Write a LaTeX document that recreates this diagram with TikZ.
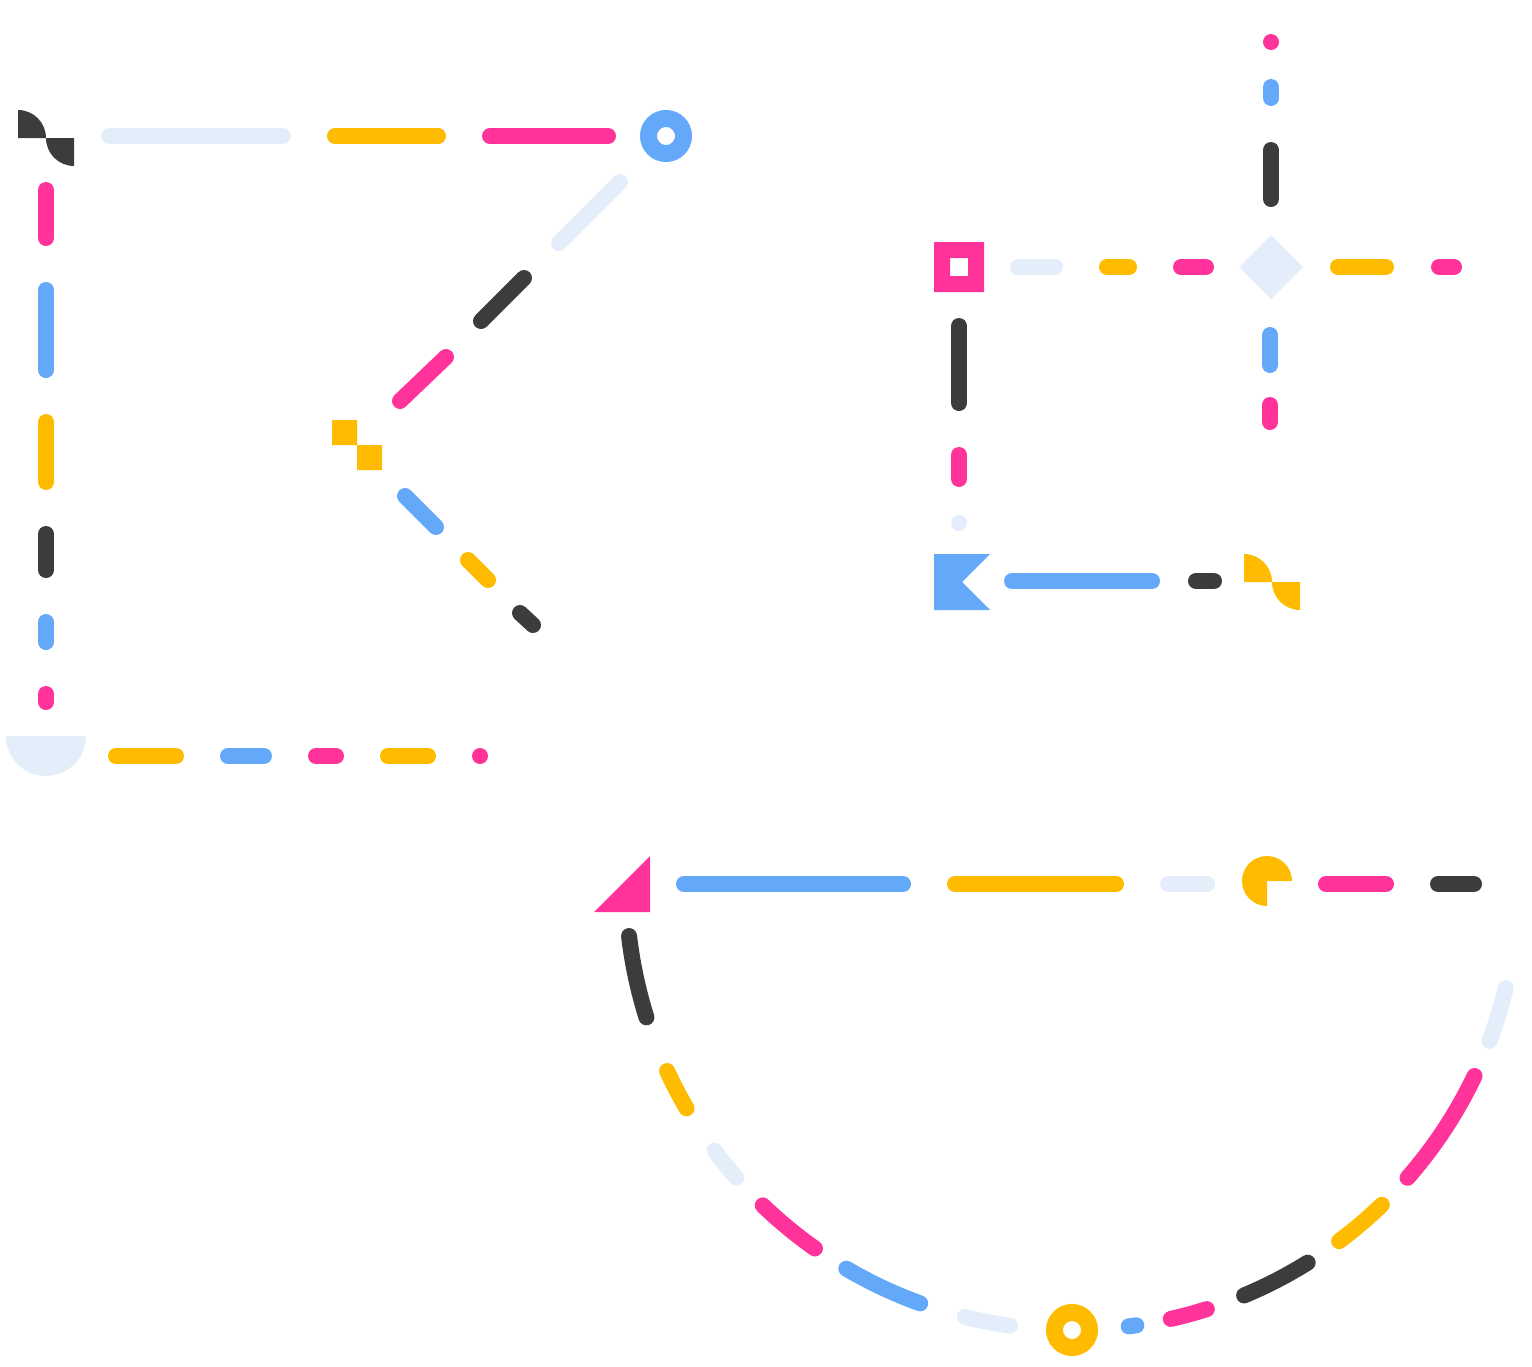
\documentclass[tikz,border=0pt]{standalone}
\usepackage{tikz}
\definecolor{darkcolor}{RGB}{59, 60, 62}
\definecolor{palecolor}{RGB}{228, 238, 251}
\definecolor{yellowcolor}{RGB}{255, 187, 0}
\definecolor{pinkcolor}{RGB}{255, 51, 153}
\definecolor{bluecolor}{RGB}{100, 168, 250}

\begin{document}
\begin{tikzpicture}[
    x=1pt, y=-1pt,
    seg/.style={line width=16pt, line cap=round},
    ring/.style={circle, draw, line width=17pt, minimum size=35pt, inner sep=0pt},
    dot/.style={circle, inner sep=0pt, minimum size=16pt}
]
\useasboundingbox (0,0) rectangle (1532,1366);

% Top-left frame: markers
\fill[darkcolor] (18,138) -- (18,110) arc[start angle=-90, end angle=0, radius=28] -- cycle;
\fill[darkcolor] (74,138) -- (46,138) arc[start angle=180, end angle=90, radius=28] -- cycle;
\node[ring, draw=bluecolor] (ringTop) at (666,136) {};
\fill[yellowcolor] (332,420) rectangle (357,445) (357,445) rectangle (382,470);
\fill[palecolor] (6,736) arc[start angle=180, end angle=0, radius=40] -- cycle;
\node[dot, fill=pinkcolor] (dotLeft) at (480,756) {};

% Top-left frame: dashes
\draw[seg, palecolor] (109,136) -- (283,136);
\draw[seg, yellowcolor] (335,136) -- (438,136);
\draw[seg, pinkcolor] (490,136) -- (608,136);
\draw[seg, pinkcolor] (46,190) -- (46,238);
\draw[seg, bluecolor] (46,290) -- (46,370);
\draw[seg, yellowcolor] (46,422) -- (46,482);
\draw[seg, darkcolor] (46,534) -- (46,570);
\draw[seg, bluecolor] (46,622) -- (46,642);
\draw[seg, pinkcolor] (46,694) -- (46,702);
\draw[seg, palecolor] (620,182) -- (559,243);
\draw[seg, darkcolor] (524,278) -- (481,321);
\draw[seg, pinkcolor] (446,357) -- (400,401);
\draw[seg, bluecolor] (405,496) -- (436,527);
\draw[seg, yellowcolor] (468,560) -- (488,580);
\draw[seg, darkcolor] (520,613) -- (533,625);
\draw[seg, yellowcolor] (116,756) -- (176,756);
\draw[seg, bluecolor] (228,756) -- (264,756);
\draw[seg, pinkcolor] (316,756) -- (336,756);
\draw[seg, yellowcolor] (388,756) -- (428,756);

% Top-right cross: markers
\fill[pinkcolor, even odd rule] (934,242) rectangle (984,292) (950,258) rectangle (968,276);
\fill[palecolor] (1271,235) -- (1303,267) -- (1271,299) -- (1239,267) -- cycle;
\fill[bluecolor] (934,554) -- (990,554) -- (962,582) -- (990,610) -- (934,610) -- cycle;
\fill[yellowcolor] (1244,582) -- (1244,554) arc[start angle=-90, end angle=0, radius=28] -- cycle;
\fill[yellowcolor] (1300,582) -- (1272,582) arc[start angle=180, end angle=90, radius=28] -- cycle;
\node[dot, fill=pinkcolor] (dotTop) at (1271,42) {};
\node[dot, fill=palecolor] (dotMid) at (959,523) {};

% Top-right cross: dashes
\draw[seg, bluecolor] (1271,87) -- (1271,98);
\draw[seg, darkcolor] (1271,150) -- (1271,199);
\draw[seg, palecolor] (1018,267) -- (1055,267);
\draw[seg, yellowcolor] (1107,267) -- (1129,267);
\draw[seg, pinkcolor] (1181,267) -- (1206,267);
\draw[seg, yellowcolor] (1338,267) -- (1386,267);
\draw[seg, pinkcolor] (1439,267) -- (1454,267);
\draw[seg, bluecolor] (1270,335) -- (1270,365);
\draw[seg, pinkcolor] (1270,405) -- (1270,422);
\draw[seg, darkcolor] (959,326) -- (959,403);
\draw[seg, pinkcolor] (959,455) -- (959,479);
\draw[seg, bluecolor] (1012,581) -- (1152,581);
\draw[seg, darkcolor] (1196,581) -- (1214,581);

% Bottom bowl: markers
\fill[pinkcolor] (594,912) -- (650,856) -- (650,912) -- cycle;
\fill[yellowcolor] (1267,881) -- (1267,906) arc[start angle=90, end angle=360, radius=25] -- cycle;
\node[ring, draw=yellowcolor] (ringBottom) at (1072,1330) {};
\coordinate (bowl) at (1072,884);

% Bottom bowl: dashes
\draw[seg, bluecolor] (684,884) -- (903,884);
\draw[seg, yellowcolor] (955,884) -- (1116,884);
\draw[seg, palecolor] (1168,884) -- (1207,884);
\draw[seg, pinkcolor] (1326,884) -- (1386,884);
\draw[seg, darkcolor] (1438,884) -- (1474,884);
\draw[seg, darkcolor] (bowl) ++(173.3:446) arc[start angle=173.3, end angle=162.6, radius=446];
\draw[seg, yellowcolor] (bowl) ++(155.2:446) arc[start angle=155.2, end angle=149.8, radius=446];
\draw[seg, palecolor] (bowl) ++(143.3:446) arc[start angle=143.3, end angle=138.8, radius=446];
\draw[seg, pinkcolor] (bowl) ++(133.9:446) arc[start angle=133.9, end angle=125.2, radius=446];
\draw[seg, bluecolor] (bowl) ++(120.4:446) arc[start angle=120.4, end angle=109.9, radius=446];
\draw[seg, palecolor] (bowl) ++(103.9:446) arc[start angle=103.9, end angle=98.0, radius=446];
\draw[seg, bluecolor] (bowl) ++(82.7:446) arc[start angle=82.7, end angle=81.7, radius=446];
\draw[seg, pinkcolor] (bowl) ++(77.2:446) arc[start angle=77.2, end angle=72.4, radius=446];
\draw[seg, darkcolor] (bowl) ++(67.3:446) arc[start angle=67.3, end angle=58.1, radius=446];
\draw[seg, yellowcolor] (bowl) ++(53.2:446) arc[start angle=53.2, end angle=46.0, radius=446];
\draw[seg, pinkcolor] (bowl) ++(41.2:446) arc[start angle=41.2, end angle=25.5, radius=446];
\draw[seg, palecolor] (bowl) ++(20.6:446) arc[start angle=20.6, end angle=13.5, radius=446];

\end{tikzpicture}
\end{document}
